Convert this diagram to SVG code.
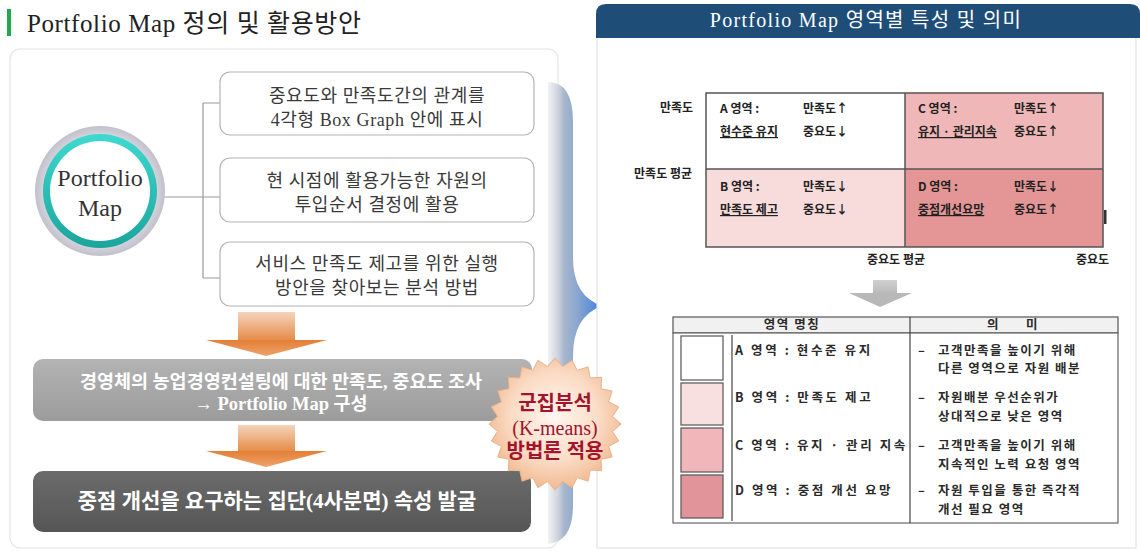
<svg xmlns="http://www.w3.org/2000/svg" width="1140" height="551" viewBox="0 0 1140 551">
<style>
.serif{font-family:"Liberation Serif","Noto Sans CJK KR",serif}
.box{fill:#fff;stroke:#b4b4b4;stroke-width:1.2}
.btxt{font-family:"Liberation Serif","Noto Sans CJK KR",serif;font-size:18px;fill:#3a3a3a;text-anchor:middle;letter-spacing:0.6px}
.wtxt{font-family:"Liberation Serif","Noto Sans CJK KR",serif;fill:#fff;text-anchor:middle;font-weight:bold}
.q{font-family:"Noto Sans CJK KR",sans-serif;font-size:12px;font-weight:bold;fill:#222}
.u{text-decoration:underline}
.t{font-family:"Noto Sans CJK KR",sans-serif;font-size:12.5px;font-weight:bold;fill:#2a2a2a;letter-spacing:1.5px}
.tn{letter-spacing:2.6px}
.conn{stroke:#9a9a9a;stroke-width:1.2;fill:none}
.sw{stroke:#555;stroke-width:1.2}
</style>
<defs>
<linearGradient id="og" x1="0" y1="0" x2="0" y2="1"><stop offset="0" stop-color="#f5d4bc"/><stop offset="1" stop-color="#e58a45"/></linearGradient>
<linearGradient id="oh" x1="0" y1="0" x2="0" y2="1"><stop offset="0" stop-color="#e47f35"/><stop offset="1" stop-color="#eea26a"/></linearGradient>
<linearGradient id="g1" x1="0" y1="0" x2="0" y2="1"><stop offset="0" stop-color="#b3b3b3"/><stop offset="1" stop-color="#9c9c9c"/></linearGradient>
<linearGradient id="g2" x1="0" y1="0" x2="0" y2="1"><stop offset="0" stop-color="#6b6b6b"/><stop offset="1" stop-color="#565656"/></linearGradient>
<radialGradient id="badge" cx="0.5" cy="0.45" r="0.55"><stop offset="0" stop-color="#fff6ef"/><stop offset="0.6" stop-color="#fbdcc6"/><stop offset="1" stop-color="#f1b990"/></radialGradient>
<linearGradient id="teal" x1="0" y1="0" x2="0" y2="1"><stop offset="0" stop-color="#3fd9cf"/><stop offset="1" stop-color="#1aa59c"/></linearGradient>
<radialGradient id="ring" cx="0.5" cy="0.5" r="0.5"><stop offset="0.85" stop-color="#d6d6de"/><stop offset="1" stop-color="#c2c0cc"/></radialGradient>
<linearGradient id="brace" x1="548" y1="0" x2="602" y2="0" gradientUnits="userSpaceOnUse"><stop offset="0" stop-color="#f2f2f2"/><stop offset="0.18" stop-color="#cfd5de"/><stop offset="0.3" stop-color="#a6b6cc"/><stop offset="0.55" stop-color="#8aa6cf"/><stop offset="1" stop-color="#3f7fe0"/></linearGradient>
<linearGradient id="ga" x1="0" y1="0" x2="0" y2="1"><stop offset="0" stop-color="#d0d0d0"/><stop offset="1" stop-color="#b8b8b8"/></linearGradient>
</defs>
<rect width="1140" height="551" fill="#fff"/>

<g id="title">
<rect x="7" y="9" width="4" height="27" fill="#1fa84f"/>
<text x="27" y="32" class="serif" font-size="25" fill="#222" letter-spacing="0.6">Portfolio Map 정의 및 활용방안</text>
</g>

<g id="left-panel">
<rect x="10" y="49" width="548" height="499" rx="10" fill="#fff" stroke="#e4e4e4" stroke-width="1.2"/>
</g>

<g id="connectors">
<path class="conn" d="M163 197 H220 M203 103 V278 M203 103 H220 M203 278 H220"/>
</g>

<g id="node-portfolio">
<circle cx="100" cy="191" r="65" fill="url(#ring)"/>
<circle cx="100" cy="191" r="57" fill="url(#teal)"/>
<circle cx="100" cy="191" r="50" fill="#fff"/>
<text x="100" y="186" class="serif" font-size="24" fill="#333" text-anchor="middle">Portfolio</text>
<text x="100" y="216" class="serif" font-size="24" fill="#333" text-anchor="middle">Map</text>
</g>

<g id="node-box1">
<rect class="box" x="220" y="72" width="314" height="63" rx="10"/>
<text class="btxt" x="377" y="102">중요도와 만족도간의 관계를</text>
<text class="btxt" x="377" y="126">4각형 Box Graph 안에 표시</text>
</g>
<g id="node-box2">
<rect class="box" x="220" y="158" width="314" height="64" rx="10"/>
<text class="btxt" x="377" y="187">현 시점에 활용가능한 자원의</text>
<text class="btxt" x="377" y="211">투입순서 결정에 활용</text>
</g>
<g id="node-box3">
<rect class="box" x="220" y="242" width="314" height="64" rx="10"/>
<text class="btxt" x="377" y="270">서비스 만족도 제고를 위한 실행</text>
<text class="btxt" x="377" y="294">방안을 찾아보는 분석 방법</text>
</g>

<g id="arrow1">
<rect x="238" y="312" width="57" height="29" fill="url(#og)"/>
<polygon points="206,340 327,340 266,356" fill="url(#oh)"/>
</g>

<g id="node-survey">
<rect x="33" y="359" width="499" height="62" rx="10" fill="url(#g1)"/>
<text class="wtxt" x="281" y="388" font-size="18.5">경영체의 농업경영컨설팅에 대한 만족도, 중요도 조사</text>
<text class="wtxt" x="281" y="410" font-size="18.5">→ Portfolio Map 구성</text>
</g>

<g id="arrow2">
<rect x="238" y="425" width="57" height="27" fill="url(#og)"/>
<polygon points="206,451 327,451 266,467" fill="url(#oh)"/>
</g>

<g id="node-result">
<rect x="33" y="471" width="498" height="61" rx="10" fill="url(#g2)"/>
<text class="wtxt" x="277" y="508" font-size="21">중점 개선을 요구하는 집단(4사분면) 속성 발굴</text>
</g>

<g id="brace">
<path d="M548 82 Q573 82 573 122 L573 258 Q573 296 602 306 Q573 316 573 356 L573 505 Q573 542 548 544 Z" fill="url(#brace)"/>
</g>

<g id="right-panel">
<rect x="597" y="36" width="539" height="512" fill="#fff" stroke="#e3e3e3" stroke-width="1.2"/>
<path d="M596 38 V14 Q596 4 606 4 H1130 Q1140 4 1140 14 V38 Z" fill="#1e4d78"/>
<text x="866" y="27" class="serif" font-size="20" fill="#fff" text-anchor="middle" letter-spacing="1.3">Portfolio Map 영역별 특성 및 의미</text>
</g>

<g id="quadrant-chart">
<rect x="706" y="93" width="199" height="76" fill="#fff"/>
<rect x="905" y="93" width="198" height="76" fill="#efb7b7"/>
<rect x="706" y="169" width="199" height="78" fill="#f8dcdc"/>
<rect x="905" y="169" width="198" height="78" fill="#e49595"/>
<rect x="706" y="93" width="397" height="154" fill="none" stroke="#555" stroke-width="1.5"/>
<path d="M905 93 V247 M706 169 H1103" stroke="#555" stroke-width="1.5"/>
<rect x="1104" y="210" width="2.5" height="14" fill="#333"/>
<text class="q" x="693" y="112" text-anchor="end">만족도</text>
<text class="q" x="692" y="178" text-anchor="end">만족도 평균</text>
<text class="q" x="896" y="264" text-anchor="middle">중요도 평균</text>
<text class="q" x="1109" y="264" text-anchor="end">중요도</text>
<text class="q" x="720" y="113">A 영역 :</text><text class="q" x="803" y="113">만족도↑</text>
<text class="q u" x="720" y="136">현수준 유지</text><text class="q" x="803" y="136">중요도↓</text>
<text class="q" x="918" y="113">C 영역 :</text><text class="q" x="1014" y="113">만족도↑</text>
<text class="q u" x="918" y="136">유지 · 관리지속</text><text class="q" x="1014" y="136">중요도↑</text>
<text class="q" x="720" y="191">B 영역 :</text><text class="q" x="803" y="191">만족도↓</text>
<text class="q u" x="720" y="214">만족도 제고</text><text class="q" x="803" y="214">중요도↓</text>
<text class="q" x="918" y="191">D 영역 :</text><text class="q" x="1014" y="191">만족도↓</text>
<text class="q u" x="918" y="214">중점개선요망</text><text class="q" x="1014" y="214">중요도↑</text>
</g>

<g id="gray-arrow">
<rect x="873" y="280" width="24" height="14" fill="url(#ga)"/>
<polygon points="849,293 912,293 880,307" fill="#b8b8b8"/>
</g>

<g id="table">
<rect x="673" y="317" width="445" height="16" fill="#f1f1f1" stroke="#555" stroke-width="1.2"/>
<rect x="673" y="333" width="445" height="190" fill="#fff" stroke="#666" stroke-width="1.2"/>
<path d="M910 317 V523 M732 335 V521" stroke="#444" stroke-width="1.2"/>
<text class="t" x="792" y="329" text-anchor="middle" font-size="12">영역 명칭</text>
<text class="t" x="1013" y="329" text-anchor="middle" font-size="12" xml:space="preserve">의      미</text>
<rect class="sw" x="681" y="336" width="42" height="44" fill="#fff"/>
<rect class="sw" x="681" y="383" width="42" height="42" fill="#f8e0e0"/>
<rect class="sw" x="681" y="428" width="42" height="44" fill="#f0b6ba"/>
<rect class="sw" x="681" y="475" width="42" height="43" fill="#e2949b"/>
<text class="t tn" x="735" y="355">A 영역 : 현수준 유지</text>
<text class="t tn" x="735" y="402">B 영역 : 만족도 제고</text>
<text class="t tn" x="735" y="450">C 영역 : 유지 · 관리 지속</text>
<text class="t tn" x="735" y="495">D 영역 : 중점 개선 요망</text>
<text class="t" x="918" y="355">–</text><text class="t" x="938" y="355">고객만족을 높이기 위해</text>
<text class="t" x="938" y="373">다른 영역으로 자원 배분</text>
<text class="t" x="918" y="402">–</text><text class="t" x="938" y="402">자원배분 우선순위가</text>
<text class="t" x="938" y="421">상대적으로 낮은 영역</text>
<text class="t" x="918" y="450">–</text><text class="t" x="938" y="450">고객만족을 높이기 위해</text>
<text class="t" x="938" y="469">지속적인 노력 요청 영역</text>
<text class="t" x="918" y="495">–</text><text class="t" x="938" y="495">자원 투입을 통한 즉각적</text>
<text class="t" x="938" y="514">개선 필요 영역</text>
</g>

<g id="badge" transform="translate(-1,2)">
<polygon fill="url(#badge)" stroke="#e9b28c" stroke-width="1" points="622,422 613.5,429.57 619.75,439.08 609.59,444.2 613.16,455 602.01,457.31 602.67,468.67 591.31,468.01 589,479.16 578.2,475.59 573.08,485.75 563.57,479.5 556,488 548.43,479.5 538.92,485.75 533.8,475.59 523,479.16 520.69,468.01 509.33,468.67 509.99,457.31 498.84,455 502.41,444.2 492.25,439.08 498.5,429.57 490,422 498.5,414.43 492.25,404.92 502.41,399.8 498.84,389 509.99,386.69 509.33,375.33 520.69,375.99 523,364.84 533.8,368.41 538.92,358.25 548.43,364.5 556,356 563.57,364.5 573.08,358.25 578.2,368.41 589,364.84 591.31,375.99 602.67,375.33 602.01,386.69 613.16,389 609.59,399.8 619.75,404.92 613.5,414.43"/>
<text class="serif" x="556" y="408" font-size="20" fill="#a3142c" text-anchor="middle" font-weight="bold">군집분석</text>
<text class="serif" x="556" y="433" font-size="20" fill="#a3142c" text-anchor="middle">(K-means)</text>
<text class="serif" x="556" y="456" font-size="20" fill="#a3142c" text-anchor="middle" font-weight="bold">방법론 적용</text>
</g>
</svg>
